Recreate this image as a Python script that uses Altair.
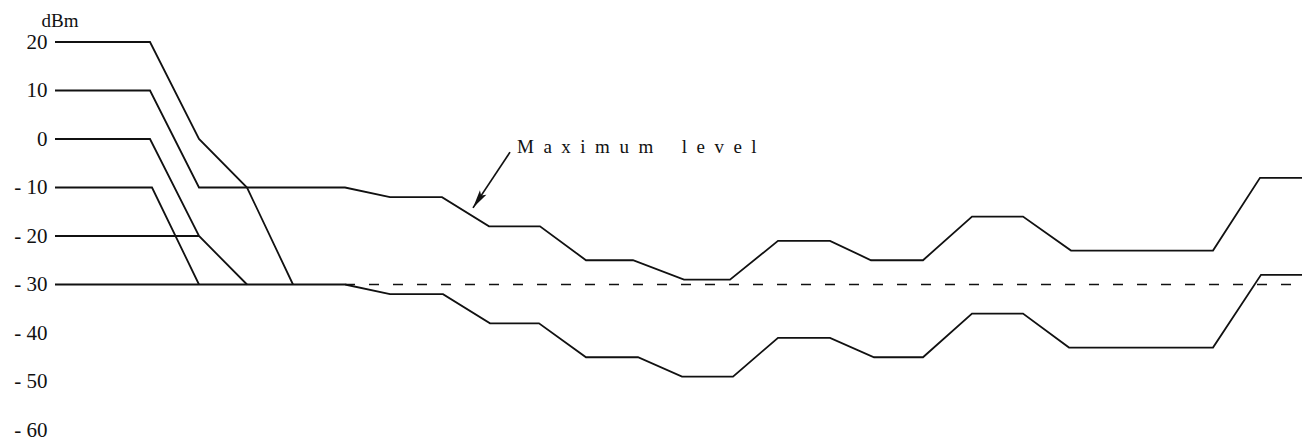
import altair as alt
import pandas as pd

# --- data (x: arbitrary horizontal position units, y: dBm) ---
line20_x = [0, 95, 144, 192, 238]
line20_y = [20, 20, 0, -10, -30]

line0_x = [0, 95, 144, 192]
line0_y = [0, 0, -20, -30]

linem10_x = [0, 97, 144]
linem10_y = [-10, -10, -30]

linem20_x = [0, 144]
linem20_y = [-20, -20]

# maximum level curve (starts at +10 dBm)
upper_x = [0, 95, 144, 290, 335, 387, 434, 485, 531, 578, 629, 675, 723, 775,
           816, 868, 917, 968, 1016, 1158, 1205, 1247]
upper_y = [10, 10, -10, -10, -12, -12, -18, -18, -25, -25, -29, -29, -21, -21,
           -25, -25, -16, -16, -23, -23, -8, -8]

# lower curve (starts at -30 dBm)
lower_x = [0, 290, 335, 388, 435, 484, 531, 583, 627, 678, 723, 775, 819, 868,
           917, 968, 1014, 1158, 1206, 1247]
lower_y = [-30, -30, -32, -32, -38, -38, -45, -45, -49, -49, -41, -41, -45, -45,
           -36, -36, -43, -43, -28, -28]

dash_x = [290, 1247]
dash_y = [-30, -30]

y_ticks = [20, 10, 0, -10, -20, -30, -40, -50, -60]

S = "\u2002"
label_text = S.join("Maximum") + S * 3 + S.join("level")
label_x = [462]
label_y = [-2.9]
arrow_x = [455, 418]
arrow_y = [-2.7, -14.2]

# --- build tables ---
rows = []
for name, xs, ys in [("l20", line20_x, line20_y), ("l0", line0_x, line0_y),
                     ("lm10", linem10_x, linem10_y), ("lm20", linem20_x, linem20_y),
                     ("upper", upper_x, upper_y), ("lower", lower_x, lower_y)]:
    for i, (xv, yv) in enumerate(zip(xs, ys)):
        rows.append({"series": name, "i": i, "x": xv, "y": yv})
df = pd.DataFrame(rows)
df_dash = pd.DataFrame({"x": dash_x, "y": dash_y, "i": [0, 1]})
df_arrow = pd.DataFrame({"x": arrow_x, "y": arrow_y, "i": [0, 1]})
df_head = pd.DataFrame({"x": [arrow_x[-1]], "y": [arrow_y[-1]]})
df_label = pd.DataFrame({"x": label_x, "y": label_y, "t": [label_text]})

FONT = "Liberation Serif"
xs = alt.Scale(domain=[0, 1250], nice=False, zero=False)
ys = alt.Scale(domain=[-60, 20], nice=False, zero=False)

base_x = alt.X("x:Q", scale=xs, axis=None)
y_axis = alt.Axis(
    values=y_ticks, domain=False, ticks=False, tickSize=0, grid=False,
    labelPadding=8, labelFont=FONT, labelFontSize=21, labelColor="#111",
    labelExpr="datum.value < 0 ? '- ' + (-datum.value) : datum.label",
    title="dBm", titleAngle=0, titleAlign="left", titleBaseline="middle",
    titleX=-14, titleY=-22, titleFont=FONT, titleFontSize=19,
    titleFontWeight="normal", titleColor="#111",
)

lines = alt.Chart(df).mark_line(color="#111", strokeWidth=1.8).encode(
    x=base_x,
    y=alt.Y("y:Q", scale=ys, axis=y_axis),
    detail="series:N",
    order="i:Q",
)

dashed = alt.Chart(df_dash).mark_line(color="#111", strokeWidth=1.4, strokeDash=[10, 14]).encode(
    x=base_x, y=alt.Y("y:Q", scale=ys), order="i:Q"
)

arrow = alt.Chart(df_arrow).mark_line(color="#111", strokeWidth=1.7).encode(
    x=base_x, y=alt.Y("y:Q", scale=ys), order="i:Q"
)

head = alt.Chart(df_head).mark_point(
    shape="M0,0L0.42,2L0,1.6L-0.42,2Z", filled=True, color="#111",
    size=340, angle=213.5, opacity=1,
).encode(x=base_x, y=alt.Y("y:Q", scale=ys))

label = alt.Chart(df_label).mark_text(
    font=FONT, fontSize=19, align="left", baseline="alphabetic", color="#111"
).encode(x=base_x, y=alt.Y("y:Q", scale=ys), text="t:N")

chart = alt.layer(lines, dashed, arrow, head, label).properties(
    width=1250, height=388,
    autosize=alt.AutoSizeParams(type="none"),
    padding={"left": 47, "top": 34, "right": 2, "bottom": 12},
    background="white",
).configure_view(stroke=None)

chart.save("out.html", embed_options={"renderer": "svg", "actions": False})
